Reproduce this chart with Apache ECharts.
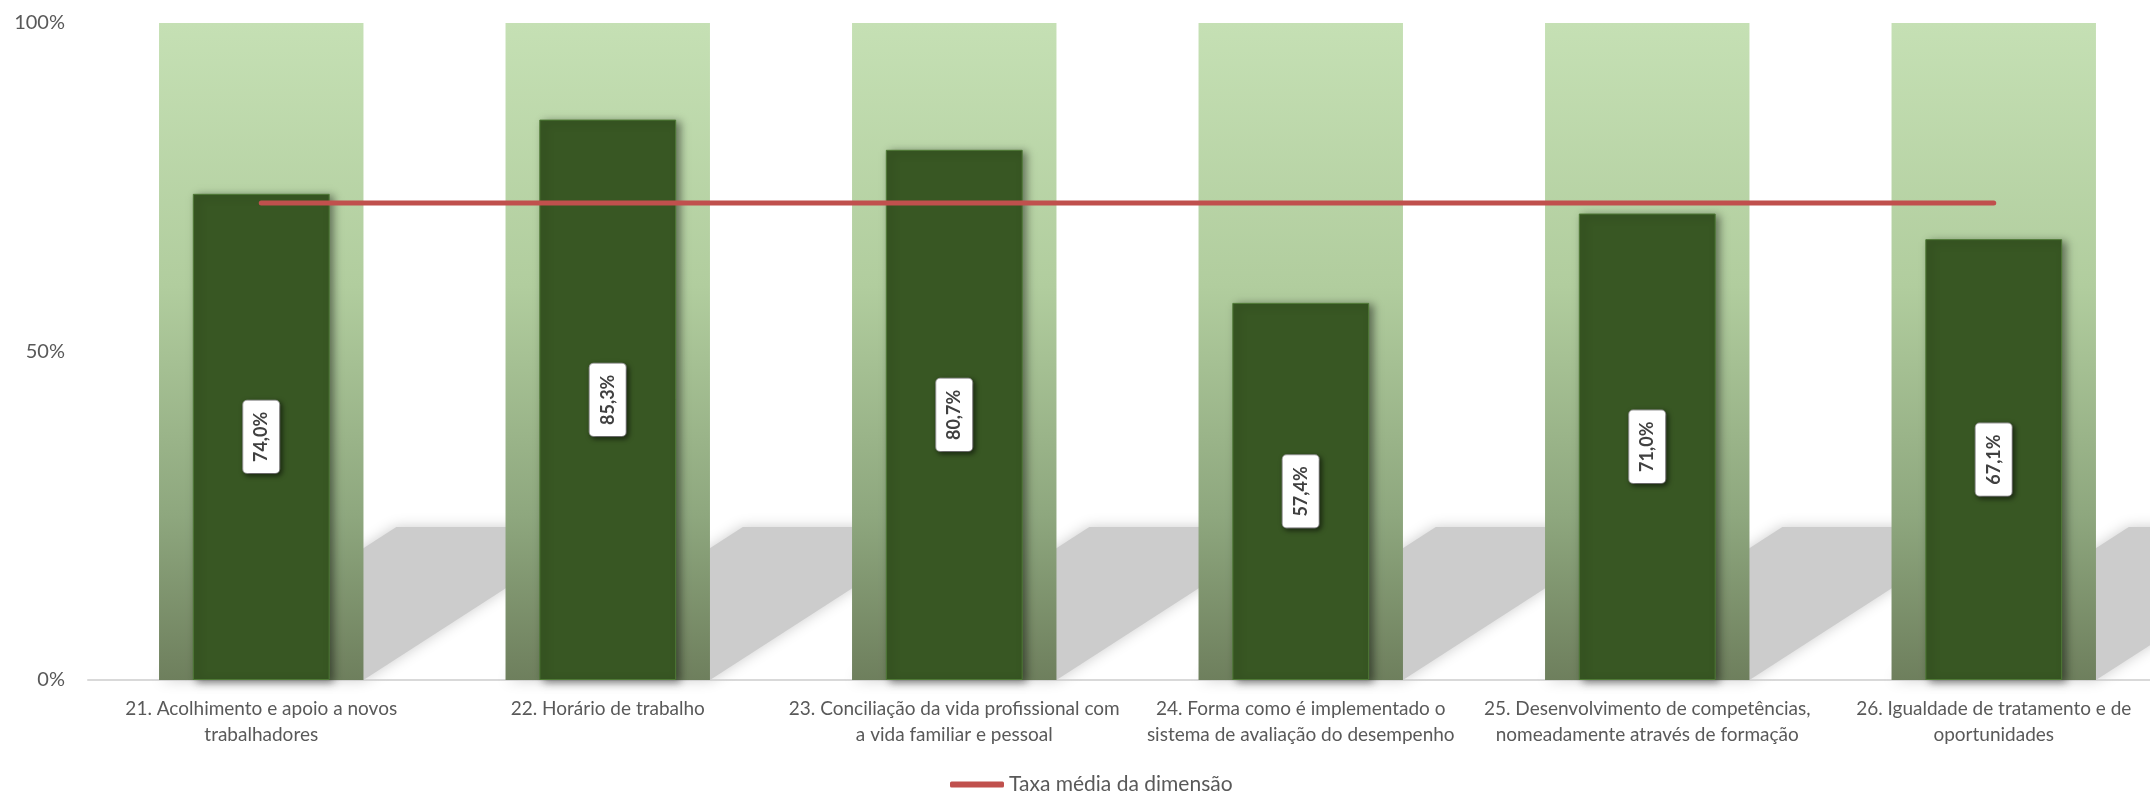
<!DOCTYPE html>
<html>
<head>
<meta charset="utf-8">
<style>
    html, body { margin: 0; padding: 0; background: #fff; }
    #chart { width: 2150px; height: 794px; }
</style>
<script src="https://cdn.jsdelivr.net/npm/echarts@6/dist/echarts.min.js"></script>
</head>
<body>
<div id="chart"></div>
<script>
const categories = [
    '21. Acolhimento e apoio a novos\ntrabalhadores',
    '22. Horário de trabalho',
    '23. Conciliação da vida profissional com\na vida familiar e pessoal',
    '24. Forma como é implementado o\nsistema de avaliação do desempenho',
    '25. Desenvolvimento de competências,\nnomeadamente através de formação',
    '26. Igualdade de tratamento e de\noportunidades'
]
const values = [74.0, 85.3, 80.7, 57.4, 71.0, 67.1]
const bgValues = [100, 100, 100, 100, 100, 100]
const avgValues = [72.6, 72.6, 72.6, 72.6, 72.6, 72.6]
const yTicks = [0, 50, 100]
const avgName = 'Taxa média da dimensão'

const font = 'Lato, "Open Sans", sans-serif'

// perspective shadow behind each background column
const shadowItem = function (params, api) {
    const base = api.coord([api.value(0), 0])
    const top = api.coord([api.value(0), api.value(1)])
    const w = api.size([1, 0])[0] * 0.59
    const h = (base[1] - top[1]) * 0.233
    const shift = h * 1.55
    const x0 = base[0] - w / 2
    return {
        type: 'polygon',
        shape: {
            points: [
                [x0, base[1]],
                [x0 + w, base[1]],
                [x0 + w + shift, base[1] - h],
                [x0 + shift, base[1] - h]
            ]
        },
        style: {
            fill: '#cccccc',
            shadowBlur: 14,
            shadowColor: '#cccccc'
        }
    }
}

const option = {
    animation: false,
    textStyle: { fontFamily: font },
    grid: {
        left: 88,
        right: -17,
        top: 23,
        bottom: 114,
        containLabel: false,
        outerBoundsMode: 'none'
    },
    legend: {
        data: [avgName],
        left: 945,
        top: 769,
        icon: 'roundRect',
        itemWidth: 54,
        itemHeight: 6,
        textStyle: {
            fontFamily: font,
            fontSize: 21,
            color: '#595959'
        }
    },
    xAxis: [{
        type: 'category',
        data: categories,
        axisTick: { show: false },
        axisLine: {
            lineStyle: { color: '#d9d9d9', width: 2 }
        },
        axisLabel: {
            interval: 0,
            margin: 16,
            fontSize: 19,
            lineHeight: 26,
            color: '#595959',
            fontFamily: font
        }
    }, {
        type: 'category',
        data: categories,
        show: false
    }],
    yAxis: {
        type: 'value',
        min: yTicks[0],
        max: yTicks[yTicks.length - 1],
        interval: yTicks[1] - yTicks[0],
        axisLine: { show: false },
        axisTick: { show: false },
        splitLine: { show: false },
        axisLabel: {
            margin: 23,
            fontSize: 20,
            color: '#595959',
            fontFamily: font,
            formatter: '{value}%'
        }
    },
    series: [{
        type: 'custom',
        z: 1,
        silent: true,
        renderItem: shadowItem,
        data: bgValues.map((v, i) => [i, v])
    }, {
        type: 'bar',
        z: 2,
        xAxisIndex: 0,
        barWidth: '59%',
        silent: true,
        data: bgValues,
        itemStyle: {
            color: {
                type: 'linear',
                x: 0, y: 0, x2: 0, y2: 1,
                colorStops: [
                    { offset: 0, color: '#c5e0b4' },
                    { offset: 0.4, color: '#b1cd9e' },
                    { offset: 0.75, color: '#8ea77e' },
                    { offset: 1, color: '#6e7f5d' }
                ]
            }
        }
    }, {
        type: 'bar',
        z: 3,
        xAxisIndex: 1,
        barWidth: '39.5%',
        data: values,
        itemStyle: {
            color: '#385723',
            borderColor: '#4f7a36',
            borderWidth: 1,
            shadowColor: 'rgba(0,0,0,0.45)',
            shadowBlur: 8,
            shadowOffsetX: 4,
            shadowOffsetY: 2
        },
        label: {
            show: true,
            position: 'inside',
            rotate: 90,
            formatter: p => p.value.toFixed(1).replace('.', ',') + '%',
            fontFamily: font,
            fontSize: 18,
            fontWeight: 'bold',
            color: '#404040',
            backgroundColor: '#ffffff',
            borderColor: '#a6a6a6',
            borderWidth: 1,
            borderRadius: 4,
            padding: [9, 11],
            shadowColor: 'rgba(0,0,0,0.5)',
            shadowBlur: 5,
            shadowOffsetX: 2,
            shadowOffsetY: 2
        }
    }, {
        type: 'line',
        name: avgName,
        z: 4,
        xAxisIndex: 0,
        data: avgValues,
        symbol: 'none',
        color: '#c0504d',
        lineStyle: {
            color: '#c0504d',
            width: 5,
            cap: 'round'
        }
    }]
}

const chart = echarts.init(document.getElementById('chart'))
chart.setOption(option)
</script>
</body>
</html>
